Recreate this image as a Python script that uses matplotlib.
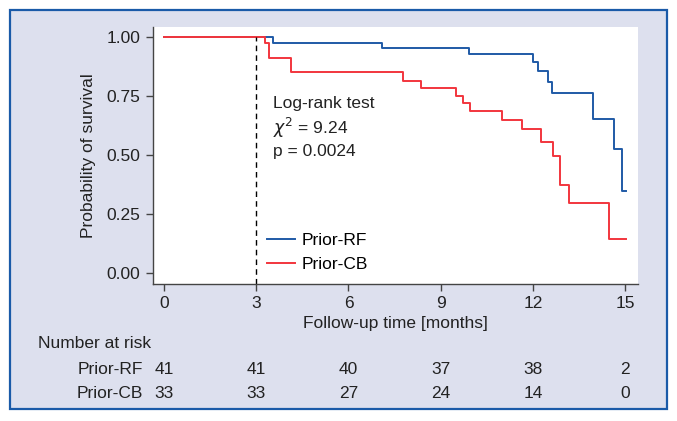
import matplotlib
matplotlib.use("Agg")
import matplotlib.pyplot as plt
from matplotlib.patches import Rectangle
from matplotlib.transforms import blended_transform_factory

plt.rcParams['font.family'] = ['Liberation Sans', 'DejaVu Sans']

# Kaplan-Meier step data
rf_times = [0, 3.55, 7.08, 9.93, 12.02, 12.16, 12.48, 12.61, 13.97, 14.64, 14.89, 15.02]
rf_surv = [1.0, 0.976, 0.952, 0.927, 0.893, 0.856, 0.811, 0.764, 0.654, 0.524, 0.347, 0.347]
cb_times = [0, 3.30, 3.40, 4.12, 7.79, 8.36, 9.50, 9.74, 9.97, 10.98, 11.64, 12.26, 12.65,
            12.89, 13.18, 14.49, 15.02]
cb_surv = [1.0, 0.973, 0.910, 0.850, 0.815, 0.784, 0.750, 0.719, 0.684, 0.648, 0.609, 0.556,
           0.496, 0.373, 0.298, 0.144, 0.144]

x_ticks = [0, 3, 6, 9, 12, 15]
y_ticks = [0.0, 0.25, 0.5, 0.75, 1.0]
y_ticklabels = ["0.00", "0.25", "0.50", "0.75", "1.00"]
risk_groups = ["Prior-RF", "Prior-CB"]
risk_rf = [41, 41, 40, 37, 38, 2]
risk_cb = [33, 33, 27, 24, 14, 0]
cutoff = 3

BLUE = "#1f5aa6"
RED = "#f2353d"
BG = "#dde0ee"
FS = 12.5

fig = plt.figure(figsize=(6.77, 4.21), dpi=100)
fig.patch.set_facecolor("white")
box = Rectangle((10/677, 1-409/421), (667-10)/677, (409-10)/421,
                transform=fig.transFigure, facecolor=BG,
                edgecolor="#1a5aa8", linewidth=1.6, zorder=-5)
fig.add_artist(box)

ax = fig.add_axes([153/677, 1-284/421, (638-153)/677, (284-27)/421])
ax.set_zorder(2)
ax.set_facecolor("white")
ax.step(rf_times, rf_surv, where="post", color=BLUE, lw=1.4, label="Prior-RF")
ax.step(cb_times, cb_surv, where="post", color=RED, lw=1.4, label="Prior-CB")
ax.plot([cutoff, cutoff], [-0.047, 1.0], color="black", lw=1.0, ls=(0, (4, 3)))

ax.set_xlim(-0.358, 15.42)
ax.set_ylim(-0.047, 1.042)
ax.set_xticks(x_ticks)
ax.set_yticks(y_ticks)
ax.set_yticklabels(y_ticklabels)
for s in ["top", "right"]:
    ax.spines[s].set_visible(False)
for s in ["left", "bottom"]:
    ax.spines[s].set_color("#444444")
    ax.spines[s].set_linewidth(1.0)
ax.tick_params(direction="out", length=5, width=1, color="#444444",
               labelsize=FS, labelcolor="#222222", pad=4)
ax.set_xlabel("Follow-up time [months]", fontsize=FS, color="#222222", labelpad=3)
ax.set_ylabel("Probability of survival", fontsize=FS, color="#222222", labelpad=8)

ax.text(3.55, 0.716, "Log-rank test", fontsize=FS, va="center", ha="left", color="#222222")
ax.text(3.55, 0.614, r"$\chi^{2}$ = 9.24", fontsize=FS, va="center", ha="left", color="#222222")
ax.text(3.55, 0.513, "p = 0.0024", fontsize=FS, va="center", ha="left", color="#222222")

ax.legend(loc="upper left", bbox_to_anchor=(0.235, 0.2), frameon=False,
          fontsize=FS, handlelength=1.6, handletextpad=0.4, labelspacing=0.5,
          borderaxespad=0, borderpad=0)

tr = blended_transform_factory(ax.transData, fig.transFigure)
fig.text(38/677, 1-344/421, "Number at risk", fontsize=FS, va="center", ha="left", color="#222222")
row_y = [1-370/421, 1-393/421]
for name, vals, yy in zip(risk_groups, [risk_rf, risk_cb], row_y):
    fig.text(143/677, yy, name, fontsize=FS, va="center", ha="right", color="#222222")
    for xv, v in zip(x_ticks, vals):
        ax.text(xv, yy, str(v), transform=tr, fontsize=FS, va="center", ha="center",
                color="#222222", clip_on=False)

fig.savefig("out.png", dpi=100, facecolor="white")
